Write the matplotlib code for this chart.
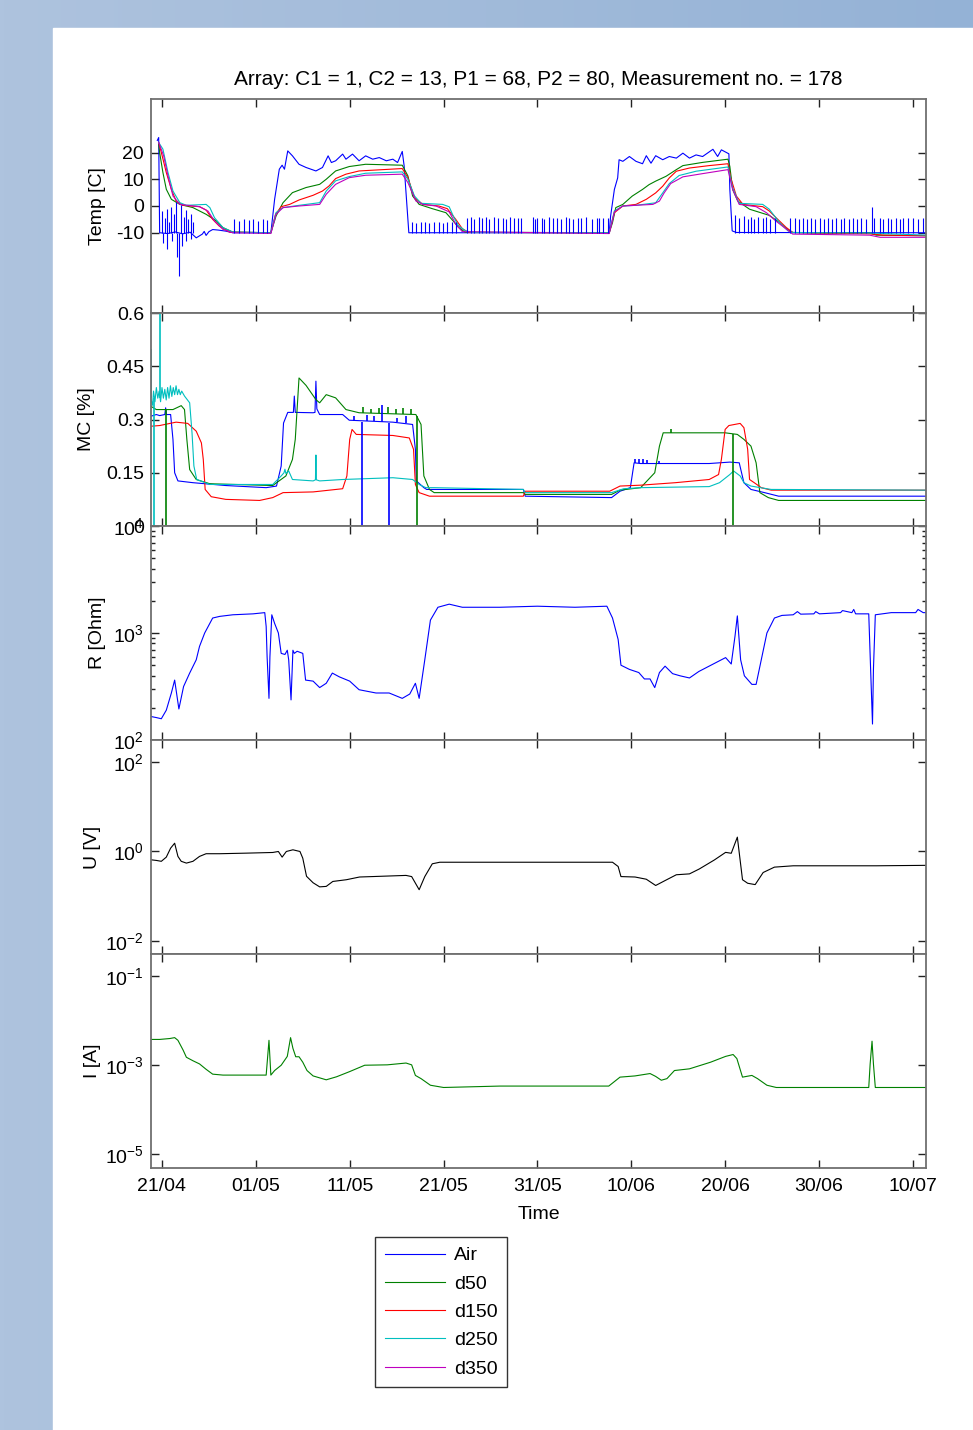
import numpy as np
import matplotlib
matplotlib.use('Agg')
import matplotlib.pyplot as plt
from matplotlib.colors import LinearSegmentedColormap
from matplotlib.patches import Rectangle
from matplotlib.lines import Line2D
from matplotlib.ticker import FixedLocator, FuncFormatter, LogLocator, NullLocator

plt.rcParams['font.family'] = ['Liberation Sans', 'DejaVu Sans']
plt.rcParams['font.size'] = 14
plt.rcParams['mathtext.default'] = 'regular'
plt.rcParams['axes.unicode_minus'] = False

# x axis = days after 21/04
day_ticks = [0, 10, 20, 30, 40, 50, 60, 70, 80]
day_labels = ['21/04', '01/05', '11/05', '21/05', '31/05', '10/06', '20/06', '30/06', '10/07']
day_min, day_max = -1.17, 81.4

series_names = ['Air', 'd50', 'd150', 'd250', 'd350']
series_colors = ['#0000ff', '#008000', '#ff0000', '#00bfbf', '#bf00bf']

title = 'Array: C1 = 1, C2 = 13, P1 = 68, P2 = 80, Measurement no. = 178'

# ---- temperature [C], (day, value)
air_temp = [(-0.5, 24.5), (-0.35, 25.6), (-0.25, -10), (0.6, -10.3), (1.4, -9.7), (2.2, -10.4),
            (3.0, -9.8), (3.65, -11.9), (4.3, -10.5), (4.5, -9.5), (4.7, -11), (5.0, -9.6),
            (5.4, -8.8), (6.0, -9.0), (6.8, -9.4), (7.55, -10), (11.6, -10), (12.0, 2.5),
            (12.5, 13.75), (12.8, 15.25), (13.05, 13.75), (13.4, 20.6), (13.9, 18.75),
            (14.6, 15.6), (15.35, 14.4), (16.4, 13.1), (17.1, 14.4), (17.7, 18.75),
            (18.05, 16.25), (18.5, 16.9), (19.25, 19.4), (19.6, 17.5), (20.3, 19.4),
            (21.0, 16.9), (21.7, 18.75), (22.45, 17.5), (23.15, 18.1), (23.9, 16.9),
            (24.6, 17.5), (25.1, 16.25), (25.6, 20.4), (25.8, 15), (26.3, -10),
            (47.65, -10), (47.8, -3.7), (48.2, 6.2), (48.55, 10.5), (48.7, 17.3),
            (49.1, 16.7), (49.8, 18.5), (50.5, 16.7), (51.2, 15.8), (51.6, 18.8),
            (52.1, 16), (52.6, 18.8), (53.35, 17.3), (54.05, 18.5), (54.8, 17.9),
            (55.5, 19.75), (56.2, 17.9), (56.9, 19.1), (57.6, 18.5), (58.7, 21.2),
            (59.2, 18.5), (59.6, 21), (60.4, 19.5), (60.5, 6.2), (60.75, -9.3),
            (61.2, -9.9), (81.4, -10)]
air_temp_base = -10
air_temp_spikes = [(0.0, -2), (0.15, -14), (0.3, -4.5), (0.5, -1), (0.55, -16), (0.75, -6),
                   (1.0, -0.5), (1.1, -13), (1.25, -3), (1.5, 1.5), (1.6, -19), (1.8, -26),
                   (2.05, 0.5), (2.15, -15), (2.3, -4), (2.55, -1.5), (2.6, -13), (2.8, -5),
                   (3.05, -3), (3.1, -12.5), (3.35, -6),
                   (7.7, -5), (8.25, -5.5), (8.7, -5), (9.25, -5.3), (9.7, -5), (10.2, -5.5),
                   (10.75, -5), (11.2, -5.2),
                   (26.6, -6), (27.05, -6.2), (27.6, -5.8), (28.05, -6), (28.5, -6.2),
                   (29.0, -5.8), (29.5, -6), (29.9, -6.2), (30.4, -5.9), (30.9, -6), (31.3, -6.1),
                   (32.5, -4.5), (32.9, -4), (33.2, -4.8), (33.8, -4.2), (34.1, -4.6),
                   (34.55, -4.1), (34.85, -4.9), (35.4, -4.2), (35.8, -4.6), (36.3, -4.3),
                   (36.6, -5), (37.1, -4.2), (37.5, -4.5), (37.9, -4.3), (38.3, -4.6),
                   (39.5, -4.2), (39.75, -4.8), (40.0, -4.3), (40.5, -4.5), (40.7, -4.9),
                   (41.2, -4.2), (41.7, -4.6), (42.1, -4.3), (42.5, -4.8), (43.0, -4.2),
                   (43.4, -4.5), (43.8, -4.9), (44.3, -4.3), (44.6, -4.6), (45.2, -4.2),
                   (45.8, -4.8), (46.3, -4.4), (46.6, -4.6), (47.0, -4.3), (47.5, -4.5),
                   (61.0, -3.5), (61.5, -4.5), (62.0, -3.8), (62.4, -4.8), (62.8, -4.2),
                   (63.1, -4.9), (63.5, -4.0), (64.0, -4.6), (64.4, -4.2), (64.8, -4.8),
                   (65.3, -4.3),
                   (66.9, -4.6), (67.4, -4.4), (67.85, -4.8), (68.3, -4.5), (68.7, -4.9),
                   (69.2, -4.4), (69.6, -4.7), (70.1, -4.5), (70.5, -4.9), (71.0, -4.4),
                   (71.4, -4.8), (71.85, -4.5), (72.3, -4.7), (72.7, -4.4), (73.2, -4.9),
                   (73.6, -4.5), (74.05, -4.7), (74.5, -4.4), (75.0, -4.8), (75.6, -0.5),
                   (75.9, -4.6), (76.5, -4.4), (76.8, -4.8), (77.3, -4.5), (77.7, -4.7),
                   (78.2, -4.4), (78.6, -4.9), (79.0, -4.5), (79.5, -4.6), (80.0, -4.4),
                   (80.6, -4.8), (81.1, -4.5)]
d50_temp = [(-0.35, 23.1), (-0.25, 20), (0.1, 12.5), (0.46, 6.25), (1.0, 2.5), (1.9, 0.6),
            (3.3, -0.6), (4.7, -3.1), (5.8, -5.6), (6.5, -8.1), (7.55, -9.75), (11.6, -10),
            (12.15, -3.75), (12.9, 1.25), (13.9, 5), (15.35, 6.9), (16.8, 8.1), (17.5, 10),
            (18.5, 13.1), (19.95, 14.75), (21.7, 15.6), (25.6, 15.25), (26.2, 11.25),
            (26.7, 3.75), (27.4, 0.6), (28.8, -1), (30.25, -2.5), (31.0, -5.5), (31.6, -8),
            (32.3, -9.8), (47.65, -10), (48.0, -6.2), (48.35, -0.6), (49.1, 0.6),
            (50.1, 3.7), (51.2, 6.2), (51.9, 8.0), (52.6, 9.3), (53.7, 11.1), (54.8, 13.6),
            (55.5, 15.1), (57.6, 16.3), (60.3, 17.5), (60.5, 14.8), (60.8, 6.2),
            (61.35, 1.85), (62.6, -1.2), (64.7, -3.5), (65.8, -6.2), (66.5, -8.4),
            (67.2, -9.9), (69.7, -10.1), (75.4, -10.1), (76.1, -10.9), (81.4, -11.1)]
d150_temp = [(-0.35, 23.75), (-0.07, 20), (0.46, 12.5), (1.0, 6.25), (1.5, 1.9), (2.2, 0.25),
             (4.0, -0.25), (4.7, -1.5), (5.4, -5), (6.1, -7.5), (7.2, -9.75), (11.6, -10),
             (12.1, -3.1), (12.7, -0.25), (13.6, 0.6), (14.6, 2.25), (16.1, 4), (17.1, 5.6),
             (17.8, 7.5), (18.5, 10.25), (19.6, 11.9), (21.0, 13.1), (25.6, 14),
             (26.2, 10.6), (26.9, 3.1), (27.8, 0.6), (29.5, 0), (30.4, -1), (31.3, -5),
             (32.0, -8.5), (32.7, -9.9), (47.65, -10), (48.2, -2.5), (49.1, 0), (50.5, 0.6),
             (51.6, 2.5), (52.6, 4.9), (53.35, 7.4), (54.05, 10.5), (54.8, 13), (56.2, 14.2),
             (58.3, 15.1), (60.3, 15.8), (60.6, 10.5), (61.2, 3.7), (61.9, 0.6),
             (64.0, -0.25), (64.7, -1.85), (65.4, -4.3), (66.5, -8), (67.2, -9.9),
             (75.4, -10.4), (76.8, -10.9), (81.4, -11.1)]
d250_temp = [(-0.35, 23.75), (0.1, 21.25), (0.64, 12.5), (1.17, 5.6), (1.9, 1.25), (2.6, 0.25),
             (4.7, 0.6), (5.1, -0.6), (5.6, -4.4), (6.5, -8.1), (7.55, -9.75), (11.6, -10),
             (12.15, -2.5), (12.9, -0.6), (14.6, 0.25), (16.8, 1.25), (17.5, 5.6),
             (18.5, 9.4), (19.95, 11), (21.7, 12.25), (25.6, 12.75), (26.2, 10),
             (26.9, 3.75), (27.6, 1), (29.9, 0.6), (30.6, -0.3), (31.1, -4.3), (31.6, -7.4),
             (32.35, -9.3), (33.1, -9.9), (47.65, -10), (48.2, -1.85), (49.1, 0),
             (50.5, 0.25), (52.6, 1.2), (53.35, 4.9), (54.05, 8.4), (55.1, 11.4),
             (56.9, 13), (60.3, 14.6), (60.8, 6.8), (61.5, 1), (64.0, 0.6), (64.7, -1.2),
             (65.8, -6.2), (66.7, -9.3), (67.2, -9.9), (75.4, -10.1), (81.4, -10.9)]
d350_temp = [(-0.35, 23.75), (0.18, 18.75), (0.64, 11.25), (1.17, 3.75), (1.9, 0.6),
             (4.0, -0.25), (4.9, -1.9), (5.6, -5.6), (6.5, -8.75), (7.55, -10),
             (11.6, -10.25), (12.15, -3.1), (12.9, -0.6), (14.6, 0), (16.8, 0.6),
             (17.5, 4.4), (18.5, 8.1), (19.95, 10.6), (21.7, 11.5), (25.6, 11.9),
             (26.2, 8.75), (27.05, 1.9), (27.8, 0.6), (29.2, 0), (30.6, -2.2),
             (31.3, -6.8), (32.0, -9.6), (47.65, -10.3), (48.2, -2.2), (49.1, 0),
             (52.3, 0.6), (53.0, 1.85), (53.5, 4.9), (54.2, 8.4), (55.5, 10.9),
             (57.6, 12.1), (60.3, 13.6), (60.8, 6.2), (61.5, 0.6), (63.3, -0.25),
             (64.4, -2.5), (65.4, -5.6), (66.5, -8.6), (67.2, -10.5), (75.4, -10.9),
             (76.5, -11.7), (81.4, -11.7)]

# ---- moisture content [%], (day, value)
air_mc = [(-1.2, 0.309), (-0.6, 0.314), (-0.25, 0.311), (0.3, 0.314), (0.39, 0.333),
          (0.48, 0.314), (0.92, 0.314), (1.17, 0.244), (1.35, 0.15), (1.7, 0.127),
          (3.3, 0.122), (6.8, 0.114), (11.1, 0.108), (12.2, 0.1125), (12.7, 0.169),
          (12.95, 0.29), (13.4, 0.32), (14.0, 0.32), (14.1, 0.366), (14.2, 0.32),
          (16.1, 0.319), (16.3, 0.32), (16.4, 0.408), (16.5, 0.33), (16.8, 0.314),
          (19.25, 0.314), (19.95, 0.298), (24.6, 0.2925), (26.7, 0.286), (27.0, 0.216),
          (27.1, 0.127), (27.9, 0.108), (28.2, 0.103), (38.5, 0.103), (38.7, 0.084),
          (47.9, 0.08), (48.8, 0.098), (49.9, 0.108), (50.3, 0.178), (51.0, 0.176),
          (58.3, 0.176), (60.5, 0.18), (61.5, 0.178), (62.0, 0.122), (62.75, 0.103),
          (64.2, 0.094), (65.7, 0.084), (81.4, 0.084)]
d50_mc = [(-1.2, 0.3375), (-0.6, 0.328), (1.17, 0.328), (2.05, 0.339), (2.4, 0.328),
          (2.65, 0.244), (2.95, 0.159), (3.65, 0.131), (5.1, 0.119), (11.8, 0.114),
          (13.2, 0.141), (13.9, 0.1875), (14.2, 0.244), (14.6, 0.417), (15.35, 0.396),
          (16.4, 0.356), (16.8, 0.347), (17.5, 0.37), (18.5, 0.361), (19.6, 0.328),
          (21.0, 0.319), (27.05, 0.314), (27.6, 0.286), (27.9, 0.141), (28.5, 0.103),
          (29.0, 0.094), (38.5, 0.094), (38.7, 0.089), (47.9, 0.089), (48.8, 0.101),
          (51.0, 0.108), (52.5, 0.15), (53.0, 0.225), (53.4, 0.2625), (60.0, 0.2625),
          (61.3, 0.258), (62.0, 0.244), (62.75, 0.225), (63.3, 0.178), (63.7, 0.094),
          (64.6, 0.08), (65.7, 0.072), (81.4, 0.072)]
d150_mc = [(-1.2, 0.281), (-0.25, 0.283), (1.5, 0.2925), (2.75, 0.289), (3.65, 0.267),
           (4.2, 0.234), (4.4, 0.1875), (4.6, 0.103), (5.25, 0.0825), (6.8, 0.075),
           (10.4, 0.072), (11.8, 0.08), (12.9, 0.094), (16.1, 0.096), (19.25, 0.105),
           (19.7, 0.141), (20.0, 0.244), (20.25, 0.272), (20.7, 0.258), (24.6, 0.255),
           (26.35, 0.248), (26.8, 0.216), (27.0, 0.117), (27.4, 0.094), (28.5, 0.084),
           (38.5, 0.084), (38.7, 0.098), (47.7, 0.098), (48.8, 0.1125), (51.0, 0.115),
           (54.7, 0.122), (58.3, 0.131), (59.3, 0.145), (59.6, 0.1875), (60.0, 0.272),
           (60.4, 0.283), (61.6, 0.289), (62.0, 0.277), (62.4, 0.216), (62.6, 0.131),
           (63.1, 0.122), (63.85, 0.108), (64.9, 0.101), (81.4, 0.101)]
d250_mc = [(-1.2, 0.36), (-1.0, 0.34), (-0.9, 0.38), (-0.75, 0.35), (-0.6, 0.39),
           (-0.45, 0.36), (-0.3, 0.38), (-0.15, 0.35), (0.0, 0.39), (0.15, 0.36),
           (0.3, 0.385), (0.45, 0.355), (0.6, 0.39), (0.75, 0.36), (0.9, 0.395),
           (1.05, 0.365), (1.2, 0.39), (1.35, 0.37), (1.5, 0.395), (1.65, 0.37),
           (1.8, 0.385), (1.95, 0.37), (2.1, 0.38), (2.4, 0.366), (2.95, 0.347),
           (3.2, 0.2625), (3.4, 0.169), (3.7, 0.131), (5.1, 0.117), (11.8, 0.117),
           (12.7, 0.141), (13.0, 0.15), (13.1, 0.16), (13.2, 0.148), (13.5, 0.155),
           (13.9, 0.131), (16.1, 0.127), (16.35, 0.13), (16.4, 0.2), (16.45, 0.13),
           (16.8, 0.127), (19.25, 0.131), (24.6, 0.136), (26.7, 0.131), (27.4, 0.117),
           (28.1, 0.108), (29.0, 0.108), (38.5, 0.103), (38.7, 0.094), (47.9, 0.094),
           (49.2, 0.105), (51.0, 0.108), (58.3, 0.111), (59.4, 0.122), (60.5, 0.145),
           (60.9, 0.155), (61.6, 0.141), (62.0, 0.122), (62.75, 0.1125), (64.9, 0.103),
           (81.4, 0.101)]
# sensor glitches: (day, from, to)
air_mc_spikes = [(21.3, 0, 0.293), (24.2, 0, 0.29), (20.5, 0.297, 0.31), (21.8, 0.296, 0.312),
                 (22.6, 0.295, 0.31), (23.4, 0.294, 0.34), (25.0, 0.292, 0.305),
                 (26.0, 0.289, 0.31), (50.4, 0.177, 0.19), (50.8, 0.177, 0.188),
                 (51.3, 0.177, 0.19), (51.7, 0.177, 0.186), (53.0, 0.176, 0.183)]
d50_mc_spikes = [(0.39, 0, 0.33), (27.2, 0, 0.31), (60.8, 0, 0.26), (21.4, 0.319, 0.335),
                 (22.3, 0.318, 0.33), (23.1, 0.318, 0.332), (24.1, 0.317, 0.335),
                 (24.9, 0.316, 0.33), (25.7, 0.315, 0.333), (26.5, 0.315, 0.33),
                 (54.2, 0.2625, 0.272)]
d250_mc_spikes = [(-1.14, 0.36, 0.5), (-0.85, 0, 0.36), (-0.25, 0.36, 0.6)]

# ---- resistance [Ohm]
air_r = [(-1.2, 166), (-0.6, 162), (-0.07, 158), (0.46, 190), (1.0, 275), (1.35, 363),
         (1.8, 195), (2.3, 316), (2.95, 422), (3.65, 562), (4.0, 750), (4.55, 1000),
         (5.4, 1380), (6.15, 1430), (7.55, 1480), (9.7, 1510), (10.95, 1550), (11.1, 1150),
         (11.2, 600), (11.4, 245), (11.5, 600), (11.7, 1480), (12.0, 1230), (12.4, 1000),
         (12.7, 645), (13.1, 630), (13.35, 690), (13.5, 562), (13.75, 237), (13.95, 690),
         (14.1, 645), (14.4, 675), (15.0, 645), (15.3, 363), (16.1, 355), (16.8, 309),
         (17.5, 339), (18.15, 422), (18.9, 389), (20.0, 355), (21.0, 295), (22.8, 275),
         (24.2, 275), (25.6, 245), (26.4, 269), (27.0, 339), (27.4, 245), (28.0, 562),
         (28.6, 1320), (29.4, 1740), (30.6, 1860), (32.0, 1740), (36.0, 1740), (40.0, 1780),
         (44.0, 1740), (47.4, 1780), (48.0, 1380), (48.6, 870), (48.9, 500), (49.8, 457),
         (50.8, 427), (51.4, 372), (52.0, 372), (52.5, 309), (53.0, 427), (53.6, 490),
         (54.4, 417), (55.2, 398), (56.2, 380), (57.2, 437), (60.05, 589), (60.65, 513),
         (61.05, 933), (61.3, 1445), (61.65, 562), (62.05, 398), (62.85, 331), (63.3, 331),
         (63.85, 562), (64.45, 1000), (65.25, 1380), (66.05, 1460), (67.25, 1480),
         (67.7, 1585), (68.05, 1500), (69.45, 1510), (69.65, 1585), (70.05, 1510),
         (72.3, 1550), (72.5, 1620), (73.5, 1550), (73.7, 1660), (73.9, 1510), (75.3, 1510),
         (75.5, 457), (75.7, 141), (75.8, 457), (76.0, 1480), (77.7, 1550), (80.3, 1550),
         (80.55, 1660), (81.1, 1550), (81.4, 1550)]

# ---- voltage [V]
u_volt = [(-1.2, 0.653), (-0.6, 0.631), (-0.07, 0.603), (0.46, 0.748), (0.92, 1.186),
          (1.35, 1.53), (1.7, 0.776), (2.05, 0.603), (2.6, 0.55), (3.3, 0.603), (4.0, 0.776),
          (4.7, 0.891), (6.15, 0.891), (9.0, 0.918), (11.8, 0.95), (12.4, 1.0), (12.8, 0.748),
          (13.25, 1.0), (13.95, 1.09), (14.7, 1.0), (15.0, 0.708), (15.4, 0.279), (16.1, 0.2),
          (16.8, 0.162), (17.5, 0.166), (18.2, 0.214), (19.65, 0.234), (21.05, 0.269),
          (22.4, 0.275), (26.0, 0.292), (26.6, 0.275), (27.4, 0.14), (28.0, 0.275),
          (28.8, 0.531), (29.6, 0.575), (48.0, 0.575), (48.6, 0.462), (48.9, 0.275),
          (50.4, 0.269), (51.6, 0.24), (52.6, 0.174), (53.6, 0.224), (54.8, 0.302),
          (56.2, 0.316), (57.25, 0.407), (58.85, 0.646), (60.05, 0.955), (60.65, 0.912),
          (61.3, 2.09), (61.85, 0.234), (62.4, 0.195), (63.2, 0.182), (64.05, 0.339),
          (65.25, 0.447), (67.25, 0.479), (76.1, 0.479), (81.4, 0.49)]

# ---- current [A]
i_amp = [(-1.2, 3.8e-3), (-0.25, 3.8e-3), (0.82, 3.98e-3), (1.35, 4.17e-3), (1.7, 3.63e-3),
         (2.25, 2.19e-3), (2.6, 1.51e-3), (3.3, 1.26e-3), (4.0, 1.07e-3), (4.7, 8.1e-4),
         (5.4, 6.3e-4), (6.5, 6.0e-4), (11.1, 6.0e-4), (11.4, 3.63e-3), (11.6, 6.0e-4),
         (12.0, 7.6e-4), (12.7, 1.0e-3), (13.35, 1.58e-3), (13.7, 4.17e-3), (13.95, 2.4e-3),
         (14.25, 1.55e-3), (14.6, 1.55e-3), (15.0, 1.17e-3), (15.45, 7.6e-4), (16.1, 5.75e-4),
         (17.5, 4.7e-4), (18.6, 5.5e-4), (20.0, 7.2e-4), (21.6, 1.0e-3), (24.0, 1.02e-3),
         (26.0, 1.12e-3), (26.6, 1.02e-3), (27.0, 5.9e-4), (27.6, 5.0e-4), (28.6, 3.55e-4),
         (30.0, 3.16e-4), (36.0, 3.4e-4), (47.6, 3.4e-4), (48.8, 5.4e-4), (50.4, 5.75e-4),
         (52.0, 6.5e-4), (52.6, 5.6e-4), (53.2, 4.6e-4), (53.8, 5.0e-4), (54.6, 7.6e-4),
         (56.2, 8.3e-4), (58.45, 1.17e-3), (60.05, 1.58e-3), (60.85, 1.74e-3),
         (61.25, 1.41e-3), (61.85, 5.4e-4), (62.85, 5.9e-4), (63.45, 5.0e-4),
         (64.45, 3.55e-4), (65.45, 3.16e-4), (75.3, 3.16e-4), (75.45, 1.07e-3),
         (75.65, 3.47e-3), (75.8, 1.07e-3), (76.0, 3.16e-4), (81.4, 3.16e-4)]


def xy(pairs):
    a = np.array(pairs, dtype=float)
    return a[:, 0], a[:, 1]


W, H = 973, 1430
fig = plt.figure(figsize=(W / 100, H / 100), dpi=100)

# blue frame around the white page
bg = fig.add_axes([0, 0, 1, 1], zorder=-10)
bg.axis('off')
frame_cmap = LinearSegmentedColormap.from_list('frame', ['#aec3de', '#94b2d6'])
bg.imshow(np.linspace(0, 1, 256)[None, :], cmap=frame_cmap, aspect='auto', extent=[0, 1, 0, 1])
bg.add_patch(Rectangle((53 / W, 0), 1, 1 - 28 / H, color='white'))
bg.set_xlim(0, 1)
bg.set_ylim(0, 1)

left_px, right_px = 151, 926
tops = [99, 313, 526, 740, 954]
bottoms = [313, 526, 740, 954, 1168]
axes = []
for t, b in zip(tops, bottoms):
    ax = fig.add_axes([left_px / W, 1 - b / H, (right_px - left_px) / W, (b - t) / H])
    ax.set_xlim(day_min, day_max)
    ax.xaxis.set_major_locator(FixedLocator(day_ticks))
    ax.tick_params(which='both', direction='in', top=True, right=True, color='#222222', width=1.0)
    ax.tick_params(which='major', length=6, pad=5)
    ax.tick_params(which='minor', length=3)
    ax.tick_params(axis='x', labelbottom=False)
    for s in ax.spines.values():
        s.set_color('#707070')
        s.set_linewidth(1.3)
    axes.append(ax)
ax1, ax2, ax3, ax4, ax5 = axes
lw = 0.8

# temperature
for pairs, c in zip([air_temp, d50_temp, d150_temp, d250_temp, d350_temp], series_colors):
    ax1.plot(*xy(pairs), color=c, lw=lw)
sd, sv = xy(air_temp_spikes)
ax1.vlines(sd, air_temp_base, sv, color=series_colors[0], lw=lw)
ax1.set_ylim(-40, 40)
ax1.yaxis.set_major_locator(FixedLocator([-10, 0, 10, 20]))
ax1.set_ylabel('Temp [C]')
ax1.yaxis.set_label_coords(-0.058, 0.5)
ax1.set_title(title, pad=10, fontsize=15)

# moisture content
for pairs, c in zip([air_mc, d50_mc, d150_mc, d250_mc], series_colors):
    ax2.plot(*xy(pairs), color=c, lw=lw)
for spikes, c in zip([air_mc_spikes, d50_mc_spikes, d250_mc_spikes],
                     [series_colors[0], series_colors[1], series_colors[3]]):
    a = np.array(spikes, dtype=float)
    ax2.vlines(a[:, 0], a[:, 1], a[:, 2], color=c, lw=1.2)
ax2.set_ylim(0, 0.6)
ax2.yaxis.set_major_locator(FixedLocator([0, 0.15, 0.3, 0.45, 0.6]))
ax2.yaxis.set_major_formatter(FuncFormatter(lambda v, p: '%g' % round(v, 2)))
ax2.set_ylabel('MC [%]')
ax2.yaxis.set_label_coords(-0.072, 0.5)

pow_fmt = FuncFormatter(lambda v, p: '$10^{%d}$' % int(round(np.log10(v))))

# resistance
ax3.semilogy(*xy(air_r), color=series_colors[0], lw=lw)
ax3.set_ylim(1e2, 1e4)
ax3.yaxis.set_major_locator(FixedLocator([1e2, 1e3, 1e4]))
ax3.yaxis.set_minor_locator(LogLocator(base=10, subs=np.arange(2, 10)))
ax3.yaxis.set_major_formatter(pow_fmt)
ax3.set_ylabel('R [Ohm]')
ax3.yaxis.set_label_coords(-0.058, 0.5)

# voltage
ax4.semilogy(*xy(u_volt), color='black', lw=lw)
ax4.set_ylim(10 ** -2.29, 10 ** 2.49)
ax4.yaxis.set_major_locator(FixedLocator([1e-2, 1e0, 1e2]))
ax4.yaxis.set_minor_locator(NullLocator())
ax4.yaxis.set_major_formatter(pow_fmt)
ax4.set_ylabel('U [V]')
ax4.yaxis.set_label_coords(-0.064, 0.5)

# current
ax5.semilogy(*xy(i_amp), color=series_colors[1], lw=lw)
ax5.set_ylim(10 ** -5.31, 10 ** -0.5)
ax5.yaxis.set_major_locator(FixedLocator([1e-5, 1e-3, 1e-1]))
ax5.yaxis.set_minor_locator(NullLocator())
ax5.yaxis.set_major_formatter(pow_fmt)
ax5.set_ylabel('I [A]')
ax5.yaxis.set_label_coords(-0.064, 0.5)
ax5.tick_params(axis='x', labelbottom=True, pad=7)
ax5.set_xticklabels(day_labels)
ax5.set_xlabel('Time', labelpad=8)

handles = [Line2D([], [], color=c, lw=lw) for c in series_colors]
leg = fig.legend(handles, series_names, loc='upper left',
                 bbox_to_anchor=(375 / W, 1 - 1237 / H), bbox_transform=fig.transFigure,
                 frameon=True, fancybox=False, edgecolor='black', handlelength=3.1,
                 handletextpad=0.45, labelspacing=0.55, borderpad=0.5, borderaxespad=0)
leg.get_frame().set_linewidth(1.0)

fig.savefig('out.png', dpi=100)
